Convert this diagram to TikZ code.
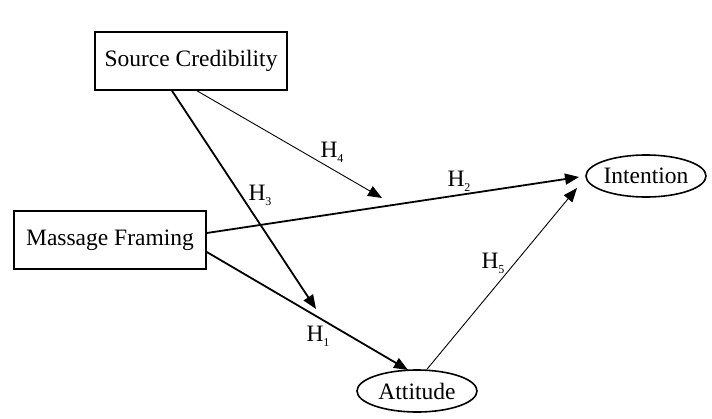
\documentclass[tikz,border=0pt]{standalone}
\usepackage{fontspec}
\setmainfont{Liberation Serif}
\usepackage{tikz}
\usetikzlibrary{arrows.meta,shapes.geometric}

\newcommand{\hsub}[1]{H\raisebox{-5pt}{\fontsize{12}{12}\selectfont #1}}

\begin{document}
\begin{tikzpicture}[x=1pt,y=-1pt,
    construct/.style={draw,line width=1.6pt,rectangle,minimum width=192pt,minimum height=58pt,inner sep=0pt},
    outcome/.style={draw,line width=1.6pt,ellipse,minimum width=120pt,minimum height=42pt,inner sep=0pt},
    strong/.style={line width=1.8pt,-{Triangle[length=14pt,width=11pt]}},
    weak/.style={line width=0.9pt,-{Triangle[length=14pt,width=11pt]}},
    hyp/.style={inner sep=0pt}]
    \fontsize{23.5}{27}\selectfont

    \useasboundingbox (0,0) rectangle (712,418);

    \node[construct] (source) at (191,61) {Source Credibility};
    \node[construct] (framing) at (110,240) {Massage Framing};
    \node[outcome] (intention) at (646,176) {Intention};
    \node[outcome] (attitude) at (417,391) {Attitude};

    \coordinate (h3end) at (316,309);
    \coordinate (h4end) at (382,198);
    \coordinate (h2end) at (579,177);
    \coordinate (h1end) at (408,370);
    \coordinate (h5end) at (577,188);

    \draw[strong] ([xshift=-19pt]source.south) -- (h3end);
    \draw[weak] ([xshift=6pt]source.south) -- (h4end);
    \draw[strong] ([yshift=7pt]framing.east) -- (h2end);
    \draw[strong] ([yshift=-12pt]framing.east) -- (h1end);
    \draw[weak] ([xshift=10pt]attitude.north) -- (h5end);

    \node[hyp] (h4) at (332,152) {\hsub{4}};
    \node[hyp] (h3) at (260,195) {\hsub{3}};
    \node[hyp] (h2) at (459,181) {\hsub{2}};
    \node[hyp] (h5) at (493,263) {\hsub{5}};
    \node[hyp] (h1) at (318,336) {\hsub{1}};

\end{tikzpicture}
\end{document}
